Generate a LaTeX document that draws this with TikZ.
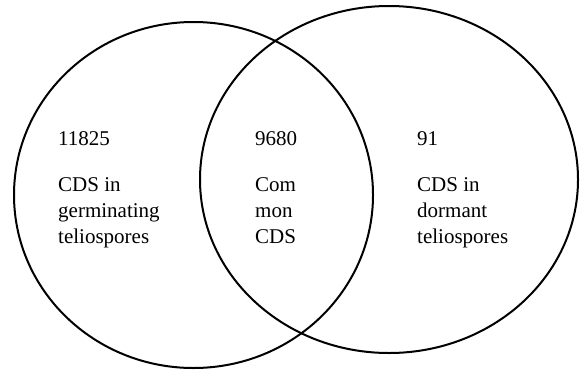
\documentclass[tikz,border=0pt]{standalone}
\usepackage{fontspec}
\setmainfont{Liberation Serif}
\begin{document}
\begin{tikzpicture}[x=1pt,y=-1pt,
    setline/.style={line width=2pt},
    lbl/.style={anchor=base west, inner sep=0pt, align=left,
      font=\fontsize{21}{26}\selectfont}]
  \useasboundingbox (0,0) rectangle (580,370);

  % Centres of the two sets
  \coordinate (G) at (193.5,195);
  \coordinate (D) at (389,179.5);

  % Draw the two sets
  \draw[setline] (G) ellipse [x radius=179.5, y radius=173];
  \draw[setline] (D) ellipse [x radius=189, y radius=173.5];

  % Counts
  \node[lbl] (nG) at (58,145) {11825};
  \node[lbl] (nC) at (255,145) {9680};
  \node[lbl] (nD) at (417,145) {91};

  % Descriptions (base is the last line)
  \node[lbl] (tG) at (58,243) {CDS in\\germinating\\teliospores};
  \node[lbl] (tC) at (255,243) {Com\\mon\\CDS};
  \node[lbl] (tD) at (417,243) {CDS in\\dormant\\teliospores};
\end{tikzpicture}
\end{document}
